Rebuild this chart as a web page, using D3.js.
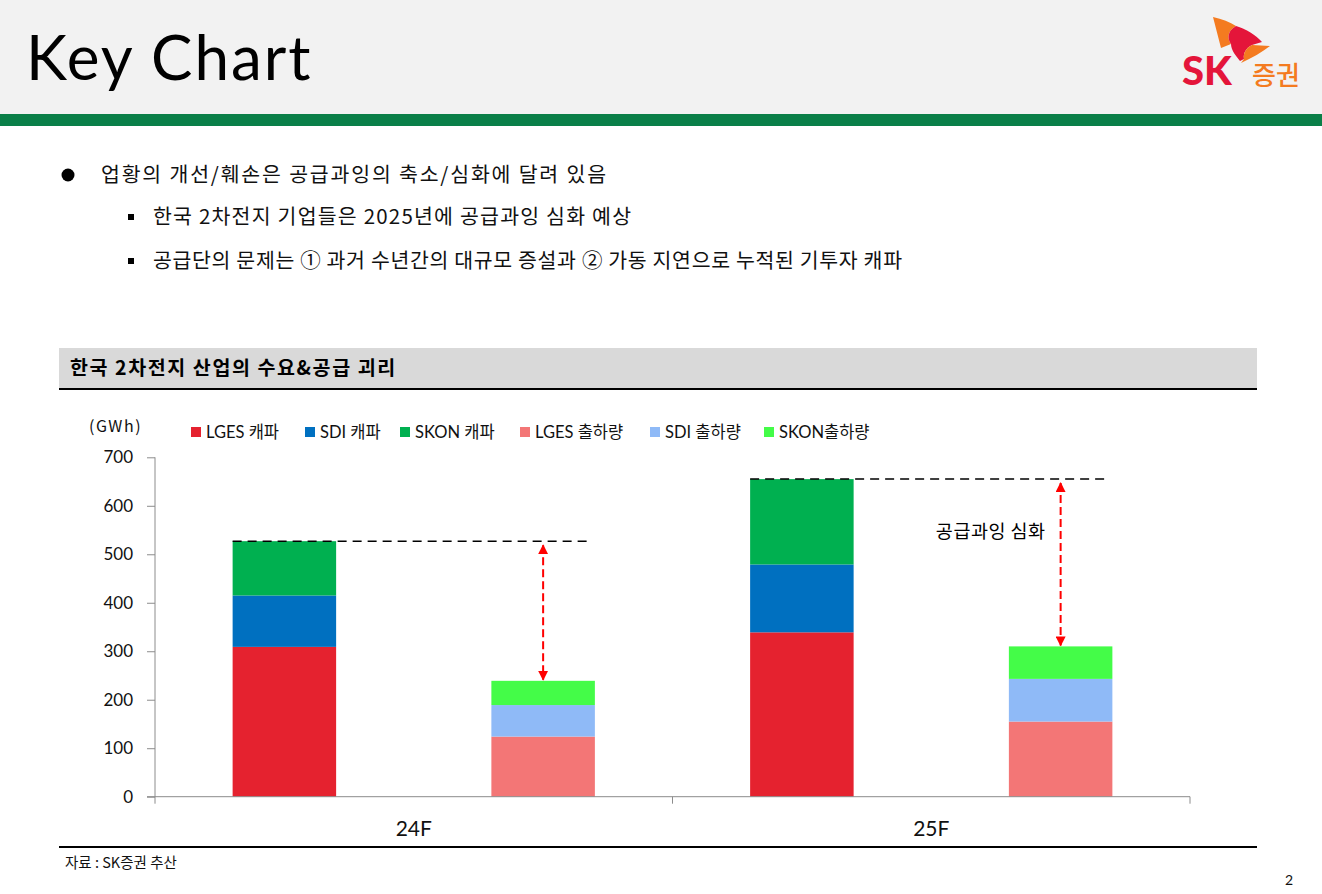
<!DOCTYPE html>
<html>
<head>
<meta charset="utf-8">
<script src="https://cdn.jsdelivr.net/npm/d3@7"></script>
<style>
  body { margin: 0; background: #fff; }
  svg { display: block; }
  text { font-family: "Lato", "Noto Sans CJK KR", sans-serif; }
  .kr { font-family: "Noto Sans CJK KR", "Noto Sans", sans-serif; }
</style>
</head>
<body>
<div id="page"></div>
<script>
// ---- data (GWh) ----
const categories = ["24F", "25F"];
const stacks = ["capa", "ship"];
const seriesNames = ["LGES 캐파", "SDI 캐파", "SKON 캐파", "LGES 출하량", "SDI 출하량", "SKON출하량"];
const seriesColors = ["#e5222f", "#0070c0", "#00b050", "#f37676", "#8fbaf7", "#44fc48"];
const lgesCapa = [309, 339];
const sdiCapa = [106, 140];
const skonCapa = [112, 176];
const lgesShip = [124, 155];
const sdiShip = [65, 88];
const skonShip = [50, 67];
const yTicks = [0, 100, 200, 300, 400, 500, 600, 700];

const bullets = [
  { level: 0, text: "업황의 개선/훼손은 공급과잉의 축소/심화에 달려 있음", width: 505 },
  { level: 1, text: "한국 2차전지 기업들은 2025년에 공급과잉 심화 예상", width: 478 },
  { level: 1, text: "공급단의 문제는 ① 과거 수년간의 대규모 증설과 ② 가동 지연으로 누적된 기투자 캐파", width: 749 }
];

const W = 1322, H = 894;
const svg = d3.select("#page").append("svg")
  .attr("width", W).attr("height", H);

// 1. header band
svg.append("rect").attr("x", 0).attr("y", 0).attr("width", W).attr("height", 114).attr("fill", "#f2f2f2");
svg.append("rect").attr("x", 0).attr("y", 114).attr("width", W).attr("height", 12).attr("fill", "#0a7f48");
svg.append("text")
  .attr("x", 26).attr("y", 80)
  .attr("font-size", 62)
  .attr("letter-spacing", 2)
  .attr("fill", "#000")
  .text("Key Chart");

// SK logo (rough)
const logo = svg.append("g");
logo.append("path").attr("fill", "#f47b20")
  .attr("d", "M1213,17 C1222,19 1230,22 1236,26 C1229,30 1226,37 1231,44 L1221,48 Z");
logo.append("path").attr("fill", "#e4153a")
  .attr("d", "M1236,26 C1246,29 1256,35 1262,42 L1252,45 C1246,48 1243,53 1244,59 L1240,61 C1236,56 1231,50 1231,44 C1226,37 1229,30 1236,26 Z");
logo.append("path").attr("fill", "#f47b20")
  .attr("d", "M1252,45 L1270,46 C1262,52 1252,58 1241,63 L1244,59 C1243,53 1246,48 1252,45 Z");
logo.append("text")
  .attr("x", 1182).attr("y", 85)
  .attr("font-size", 40).attr("font-weight", 900)
  .attr("font-family", "Roboto, sans-serif")
  .attr("fill", "#e4153a")
  .text("SK");
logo.append("text").attr("class", "kr")
  .attr("x", 1252).attr("y", 85)
  .attr("font-size", 26).attr("font-weight", 500)
  .attr("fill", "#f47b20")
  .text("증권");

// 2. bullets
const bulletY = [175, 217, 261];
bullets.forEach((b, i) => {
  const yy = bulletY[i];
  if (b.level === 0) {
    svg.append("circle").attr("cx", 68).attr("cy", yy).attr("r", 6.5).attr("fill", "#000");
  } else {
    svg.append("rect").attr("x", 128).attr("y", yy - 3).attr("width", 6).attr("height", 6).attr("fill", "#000");
  }
  svg.append("text").attr("class", "kr")
    .attr("x", b.level === 0 ? 101 : 153)
    .attr("y", yy)
    .attr("dy", "0.36em")
    .attr("font-size", 20.5)
    .attr("textLength", b.width)
    .attr("lengthAdjust", "spacing")
    .attr("fill", "#111")
    .text(b.text);
});

// 3. section header
svg.append("rect").attr("x", 59).attr("y", 348).attr("width", 1198).attr("height", 40).attr("fill", "#d9d9d9");
svg.append("rect").attr("x", 59).attr("y", 388).attr("width", 1198).attr("height", 2).attr("fill", "#000");
svg.append("text").attr("class", "kr")
  .attr("x", 70).attr("y", 368).attr("dy", "0.36em")
  .attr("font-size", 19.5).attr("font-weight", 700)
  .attr("letter-spacing", 1.6)
  .attr("fill", "#000")
  .text("한국 2차전지 산업의 수요&공급 괴리");

// 4. chart
const y = d3.scaleLinear().domain([0, 700]).range([796.7, 457.3]);
const x0 = d3.scaleBand().domain(categories).range([155, 1190]);
const x1 = d3.scaleBand().domain(stacks).range([0, x0.bandwidth()])
  .paddingInner(0.6).paddingOuter(0.3);

// one row per category, six series
const rows = categories.map((c, i) => ({
  cat: c,
  s0: lgesCapa[i], s1: sdiCapa[i], s2: skonCapa[i],
  s3: lgesShip[i], s4: sdiShip[i], s5: skonShip[i]
}));
const capaStack = d3.stack().keys(["s0", "s1", "s2"])(rows);
const shipStack = d3.stack().keys(["s3", "s4", "s5"])(rows);

const chart = svg.append("g");

function drawStack(layers, stackKey, colorOffset) {
  chart.append("g").selectAll("g")
    .data(layers)
    .join("g")
    .attr("fill", (d, i) => seriesColors[i + colorOffset])
    .selectAll("rect")
    .data(d => d)
    .join("rect")
    .attr("x", d => x0(d.data.cat) + x1(stackKey))
    .attr("width", x1.bandwidth())
    .attr("y", d => y(d[1]))
    .attr("height", d => y(d[0]) - y(d[1]));
}
drawStack(capaStack, "capa", 0);
drawStack(shipStack, "ship", 3);

// y axis
const yAxis = chart.append("g")
  .attr("transform", "translate(155,0)")
  .call(d3.axisLeft(y).tickValues(yTicks).tickSize(8).tickSizeOuter(0).tickPadding(14));
yAxis.select(".domain").attr("stroke", "#8c8c8c").attr("d", `M0,${y(700)}V${y(0) + 7}`);
yAxis.selectAll(".tick line").attr("stroke", "#8c8c8c");
yAxis.selectAll(".tick text")
  .attr("font-size", 17).attr("fill", "#111")
  .attr("font-family", "Lato, sans-serif");

// x axis
const xAxis = chart.append("g")
  .attr("transform", `translate(0,${y(0)})`)
  .call(d3.axisBottom(x0).tickSize(0).tickPadding(24));
xAxis.select(".domain").attr("stroke", "#8c8c8c").attr("d", `M147,0H${x0.range()[1]}`);
xAxis.selectAll(".tick text")
  .attr("font-size", 21).attr("fill", "#111")
  .attr("font-family", "Lato, sans-serif");
const bounds = categories.map(c => x0(c) + x0.bandwidth());
xAxis.selectAll(".bound")
  .data(bounds)
  .join("line")
  .attr("class", "bound")
  .attr("x1", d => d).attr("x2", d => d)
  .attr("y1", 0).attr("y2", 7)
  .attr("stroke", "#8c8c8c");

// dashed capa total lines + red gap arrows
const defs = svg.append("defs");
["arrowEnd", "arrowStart"].forEach(id => {
  defs.append("marker")
    .attr("id", id)
    .attr("viewBox", "0 0 10 10")
    .attr("refX", 9).attr("refY", 5)
    .attr("markerWidth", 5).attr("markerHeight", 5)
    .attr("orient", id === "arrowEnd" ? "auto" : "auto-start-reverse")
    .append("path")
    .attr("d", "M0,0L10,5L0,10Z")
    .attr("fill", "#ff0000");
});

rows.forEach((r, i) => {
  const capTot = lgesCapa[i] + sdiCapa[i] + skonCapa[i];
  const shipTot = lgesShip[i] + sdiShip[i] + skonShip[i];
  const xl = x0(r.cat) + x1("capa");
  const xr = x0(r.cat) + x1("ship") + x1.bandwidth() - 4;
  const xm = x0(r.cat) + x1("ship") + x1.bandwidth() / 2;
  chart.append("line")
    .attr("x1", xl).attr("x2", xr)
    .attr("y1", y(capTot)).attr("y2", y(capTot))
    .attr("stroke", "#000").attr("stroke-width", 1.5)
    .attr("stroke-dasharray", "9,6");
  chart.append("line")
    .attr("x1", xm).attr("x2", xm)
    .attr("y1", y(capTot) + 4).attr("y2", y(shipTot) - 1)
    .attr("stroke", "#ff0000").attr("stroke-width", 2)
    .attr("stroke-dasharray", "8,4")
    .attr("marker-start", "url(#arrowStart)")
    .attr("marker-end", "url(#arrowEnd)");
  if (i === 1) {
    chart.append("text").attr("class", "kr")
      .attr("x", xm - 15).attr("y", y(capTot) + 52)
      .attr("dy", "0.36em")
      .attr("text-anchor", "end")
      .attr("font-size", 18.5).attr("letter-spacing", 0.5)
      .attr("fill", "#000")
      .text("공급과잉 심화");
  }
});

// unit label
chart.append("text").attr("class", "kr")
  .attr("x", 89).attr("y", 426).attr("dy", "0.36em")
  .attr("font-size", 16).attr("letter-spacing", 1.5)
  .attr("fill", "#111")
  .text("(GWh)");

// legend
const legendX = [191, 305, 400, 520, 650, 764];
const legend = chart.append("g").selectAll("g")
  .data(seriesNames)
  .join("g")
  .attr("transform", (d, i) => `translate(${legendX[i]},432)`);
legend.append("rect")
  .attr("x", 0).attr("y", -5).attr("width", 10).attr("height", 10)
  .attr("fill", (d, i) => seriesColors[i]);
legend.append("text")
  .attr("x", 15).attr("dy", "0.36em")
  .attr("font-size", 16.5).attr("fill", "#111")
  .text(d => d);

// 5. footer
svg.append("rect").attr("x", 59).attr("y", 846).attr("width", 1198).attr("height", 2).attr("fill", "#000");
svg.append("text").attr("class", "kr")
  .attr("x", 65).attr("y", 863).attr("dy", "0.36em")
  .attr("font-size", 14.5).attr("fill", "#111")
  .text("자료 : SK증권 추산");
svg.append("text")
  .attr("x", 1293).attr("y", 880).attr("dy", "0.36em")
  .attr("text-anchor", "end")
  .attr("font-size", 14).attr("fill", "#111")
  .text("2");
</script>
</body>
</html>
